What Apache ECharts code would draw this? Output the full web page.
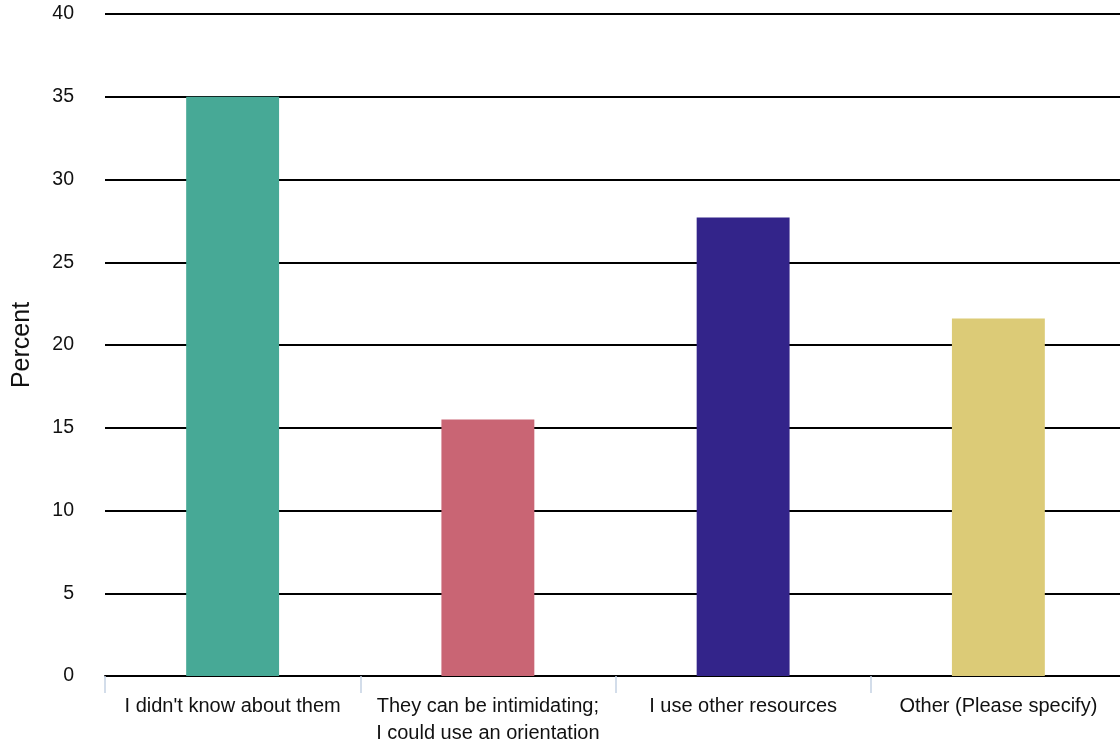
<!DOCTYPE html>
<html><head><meta charset="utf-8">
<script src="https://cdn.jsdelivr.net/npm/echarts@6/dist/echarts.min.js"></script>
<style>html,body{margin:0;padding:0;background:#fff}#c{width:1120px;height:742px}</style>
</head><body><div id="c"></div>
<script>
const categories = ["I didn't know about them", "They can be intimidating;\nI could use an orientation", "I use other resources", "Other (Please specify)"];
const values = [35.0, 15.5, 27.7, 21.6];
const colors = ["#47a996", "#c96574", "#33248a", "#dccb77"];
const yTicks = [0, 5, 10, 15, 20, 25, 30, 35, 40];

const FONT = 'Liberation Sans, Arial, Helvetica, sans-serif';
const chart = echarts.init(document.getElementById('c'), null, {renderer: 'canvas'});
chart.setOption({
  animation: false,
  grid: {left: 105, right: -6, top: 14, bottom: 66, containLabel: false, outerBoundsMode: 'none'},
  xAxis: {
    type: 'category', data: categories,
    axisLine: {lineStyle: {color: '#000', width: 2}},
    axisTick: {show: true, length: 17, lineStyle: {color: '#c5d2e4', width: 1.5}},
    axisLabel: {color: '#111', fontFamily: FONT, fontSize: 20, margin: 15, lineHeight: 27, interval: 0, padding: [2, 0, 0, 0]}
  },
  yAxis: {
    type: 'value', min: yTicks[0], max: yTicks[yTicks.length - 1], interval: 5,
    name: 'Percent', nameLocation: 'middle', nameGap: 70, nameRotate: 90,
    nameTextStyle: {color: '#111', fontFamily: FONT, fontSize: 25},
    axisLine: {show: false}, axisTick: {show: false},
    axisLabel: {color: '#111', fontFamily: FONT, fontSize: 19.5, margin: 31, padding: [6, 0, 0, 0]},
    splitLine: {lineStyle: {color: '#000', width: 2}}
  },
  series: [{
    type: 'bar', barWidth: '36.4%',
    data: values.map((v, i) => ({value: v, itemStyle: {color: colors[i]}}))
  }]
});
</script></body></html>
